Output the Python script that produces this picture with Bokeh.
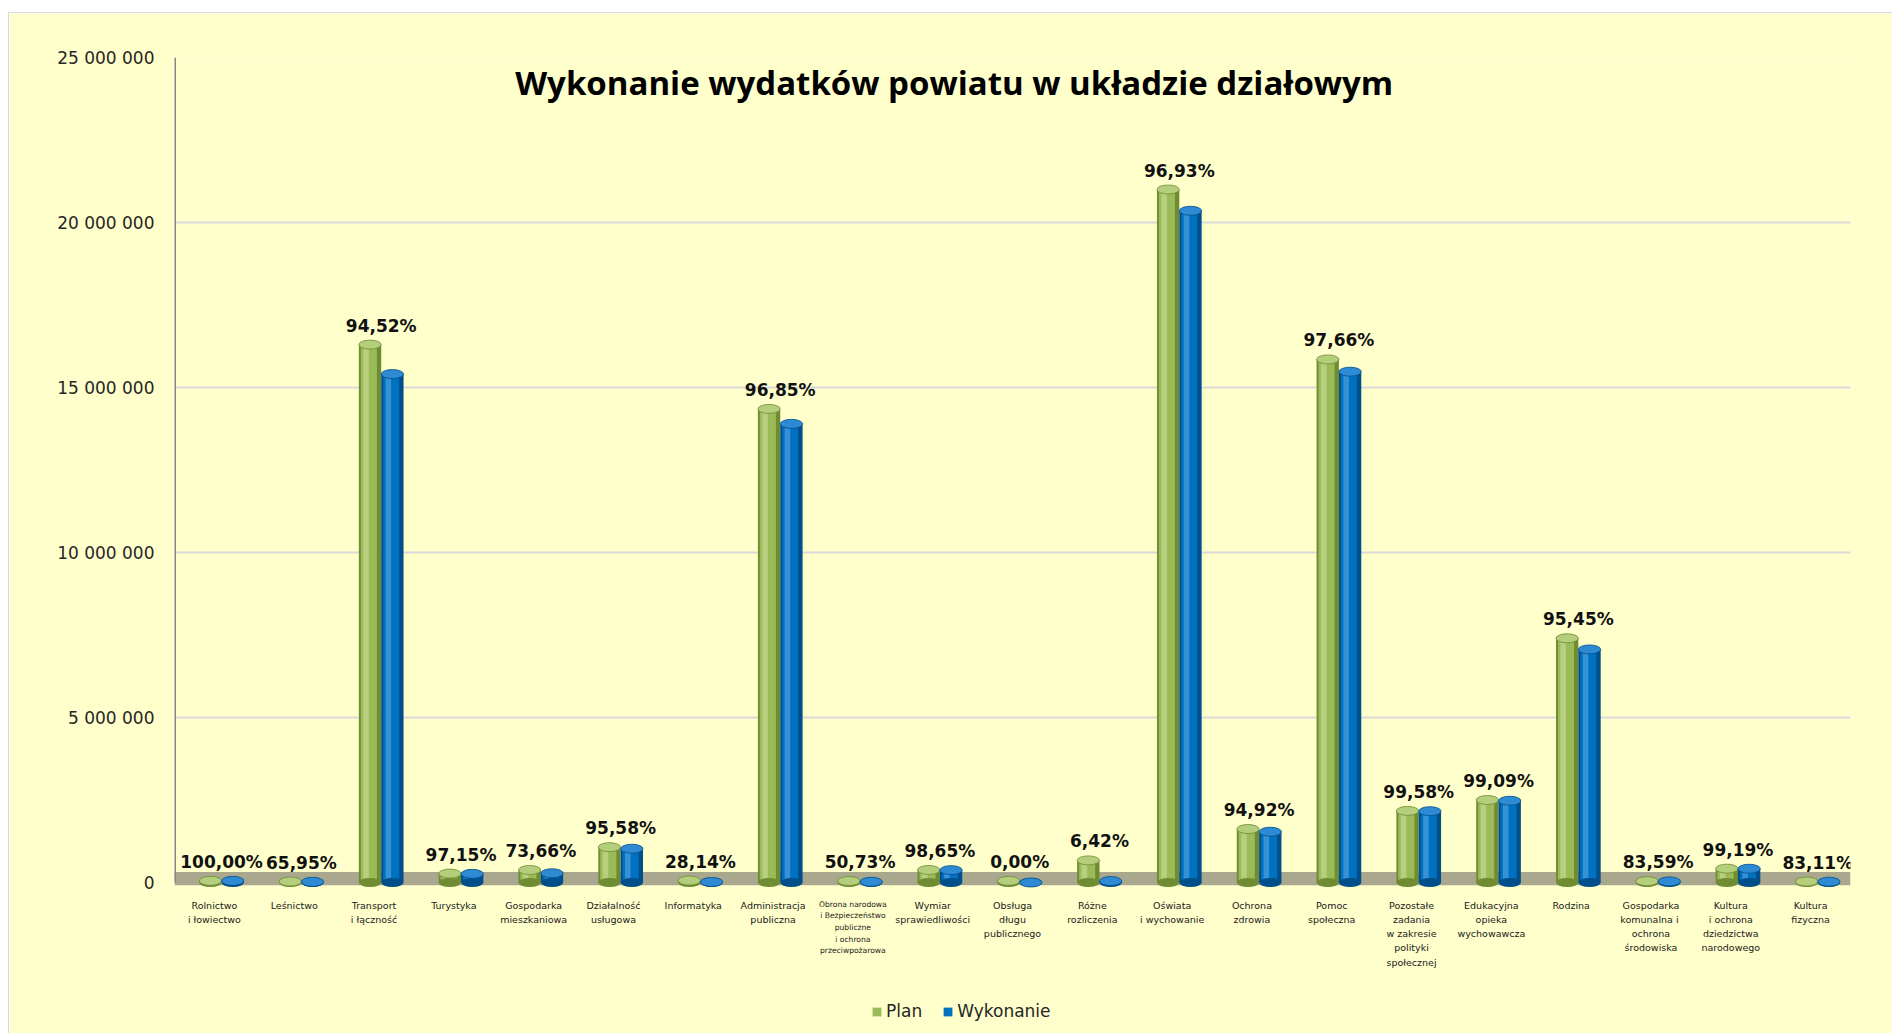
from bokeh.plotting import figure
from bokeh.models import (ColumnDataSource, FactorRange, Range1d, FixedTicker, LabelSet,
                          CustomJSTickFormatter, Legend, LegendItem, Label, BoxAnnotation)
from bokeh.transform import dodge
from bokeh.embed import file_html
from bokeh.resources import INLINE
from bokeh.core.properties import value

# ---------------- data ----------------
categories = [
    "Rolnictwo\ni łowiectwo",
    "Leśnictwo",
    "Transport\ni łączność",
    "Turystyka",
    "Gospodarka\nmieszkaniowa",
    "Działalność\nusługowa",
    "Informatyka",
    "Administracja\npubliczna",
    "Obrona narodowa\ni Bezpieczeństwo\npubliczne\ni ochrona\nprzeciwpożarowa",
    "Wymiar\nsprawiedliwości",
    "Obsługa\ndługu\npublicznego",
    "Różne\nrozliczenia",
    "Oświata\ni wychowanie",
    "Ochrona\nzdrowia",
    "Pomoc\nspołeczna",
    "Pozostałe\nzadania\nw zakresie\npolityki\nspołecznej",
    "Edukacyjna\nopieka\nwychowawcza",
    "Rodzina",
    "Gospodarka\nkomunalna  i\nochrona\nśrodowiska",
    "Kultura\ni ochrona\ndziedzictwa\nnarodowego",
    "Kultura\nfizyczna",
]
plan = [50_000, 30_000, 16_300_000, 270_000, 380_000, 1_070_000, 60_000,
        14_350_000, 45_000, 380_000, 50_000, 670_000, 21_000_000, 1_620_000,
        15_850_000, 2_170_000, 2_500_000, 7_400_000, 40_000, 420_000, 30_000]
wykonanie = [50_000, 19_800, 15_407_000, 262_000, 280_000, 1_023_000, 16_900,
             13_898_000, 22_800, 374_900, 0, 43_000, 20_355_000, 1_538_000,
             15_479_000, 2_161_000, 2_477_000, 7_063_000, 33_400, 416_600, 24_900]
pct_labels = ["100,00%", "65,95%", "94,52%", "97,15%", "73,66%", "95,58%",
              "28,14%", "96,85%", "50,73%", "98,65%", "0,00%", "6,42%",
              "96,93%", "94,92%", "97,66%", "99,58%", "99,09%", "95,45%",
              "83,59%", "99,19%", "83,11%"]
y_ticks = [0, 5_000_000, 10_000_000, 15_000_000, 20_000_000, 25_000_000]
series_names = ["Plan", "Wykonanie"]
title_text = "Wykonanie wydatków powiatu w układzie działowym"

# ---------------- styles ----------------
BG = "#FFFFCC"
GREEN_DARK, GREEN, GREEN_LIGHT, GREEN_TOP = "#6F8C33", "#9BBB59", "#C9DC9A", "#B4CE7C"
BLUE_DARK, BLUE, BLUE_LIGHT, BLUE_TOP = "#004F8A", "#0070C0", "#5AA9E6", "#2E8AD3"
PLAN_OFF, WYK_OFF, BAR_W = -0.05, 0.23, 0.28
Y_START = -4_606_000          # room below the floor for category labels and legend
FLOOR_BOTTOM, FLOOR_TOP = -80_000, 320_000
label_sizes = ["9.5px"] * len(categories)
label_sizes[8] = "7.6px"      # the long "Obrona narodowa..." label is set smaller

source = ColumnDataSource(dict(
    cat=categories, plan=plan, wyk=wykonanie, pct=pct_labels, fs=label_sizes,
    top=[max(a, b) for a, b in zip(plan, wykonanie)],
))

p = figure(
    x_range=FactorRange(factors=categories),
    y_range=Range1d(Y_START, y_ticks[-1]),
    width=1884, height=1021,
    output_backend="svg", toolbar_location=None,
    min_border_left=165, min_border_right=43,
    min_border_top=44, min_border_bottom=0,
)
p.styles = {"margin-left": "8px", "margin-top": "12px",
            "border-left": "1px solid #D9D9D9", "border-top": "1px solid #D9D9D9"}
p.background_fill_color = BG
p.border_fill_color = BG
p.outline_line_color = None

# gridlines only over the value range
p.xgrid.grid_line_color = None
p.ygrid.grid_line_color = "#D9D9D9"
p.ygrid.grid_line_width = 2

# floor
p.add_layout(BoxAnnotation(bottom=FLOOR_BOTTOM, top=FLOOR_TOP, fill_color="#A9A88F",
                           fill_alpha=1.0, line_color=None, level="underlay"))

# value axis line (0 .. max tick)
p.segment(x0=[0], y0=[y_ticks[0]], x1=[0], y1=[y_ticks[-1]],
          line_color="#868686", line_width=3)

def cylinder(col, off, dark, main, light, topc):
    p.vbar(x=dodge("cat", off, range=p.x_range), top=col, bottom=0, width=BAR_W,
           source=source, fill_color=dark, line_color=None)
    r = p.vbar(x=dodge("cat", off - 0.015, range=p.x_range), top=col, bottom=0,
               width=BAR_W * 0.72, source=source, fill_color=main, line_color=None)
    p.vbar(x=dodge("cat", off - 0.05, range=p.x_range), top=col, bottom=0,
           width=BAR_W * 0.25, source=source, fill_color=light, fill_alpha=0.6,
           line_color=None)
    p.ellipse(x=dodge("cat", off, range=p.x_range), y=0, width=BAR_W, height=9,
              height_units="screen", source=source, fill_color=dark, line_color=None)
    p.ellipse(x=dodge("cat", off, range=p.x_range), y=col, width=BAR_W, height=9,
              height_units="screen", source=source, fill_color=topc,
              line_color=dark, line_width=0.8)
    return r

r_plan = cylinder("plan", PLAN_OFF, GREEN_DARK, GREEN, GREEN_LIGHT, GREEN_TOP)
r_wyk = cylinder("wyk", WYK_OFF, BLUE_DARK, BLUE, BLUE_LIGHT, BLUE_TOP)

# percentage labels (annotation, so the last one is not clipped at the frame edge)
p.add_layout(LabelSet(x=dodge("cat", (PLAN_OFF + WYK_OFF) / 2, range=p.x_range), y="top",
                      text="pct", source=source, y_offset=9, text_align="center",
                      text_baseline="bottom", text_font=value("DejaVu Sans"),
                      text_font_style="bold", text_font_size="17px",
                      text_color="#111111"))

# category labels under the floor
p.text(x="cat", y=0, text="cat", source=source, y_offset=17,
       text_align="center", text_baseline="top", text_line_height=1.3,
       text_font=value("DejaVu Sans"), text_font_size="fs", text_color="#1A1A1A")

# title inside the plot area
p.add_layout(Label(x=9.77, y=24_240_000, text=title_text, text_align="center",
                   text_baseline="alphabetic", text_font="Open Sans",
                   text_font_style="bold", text_font_size="33px", text_color="#000000"))

# axes
p.xaxis.visible = False
p.yaxis.ticker = FixedTicker(ticks=y_ticks)
p.yaxis.formatter = CustomJSTickFormatter(
    code=r"return tick.toFixed(0).replace(/\B(?=(\d{3})+(?!\d))/g, ' ');")
p.yaxis.axis_line_color = None
p.yaxis.major_tick_line_color = None
p.yaxis.minor_tick_line_color = None
p.yaxis.major_label_standoff = 14
p.yaxis.major_label_text_font = "DejaVu Sans"
p.yaxis.major_label_text_font_size = "17px"
p.yaxis.major_label_text_color = "#262626"

legend = Legend(items=[LegendItem(label=series_names[0], renderers=[r_plan]),
                       LegendItem(label=series_names[1], renderers=[r_wyk])],
                orientation="horizontal", location=(697, 13),
                background_fill_alpha=0, border_line_color=None,
                label_text_font="DejaVu Sans", label_text_font_size="17px",
                label_text_color="#262626", glyph_width=11, glyph_height=11,
                label_standoff=4, spacing=20, padding=4, margin=0)
p.add_layout(legend)

open("out.html", "w").write(file_html(p, INLINE))
